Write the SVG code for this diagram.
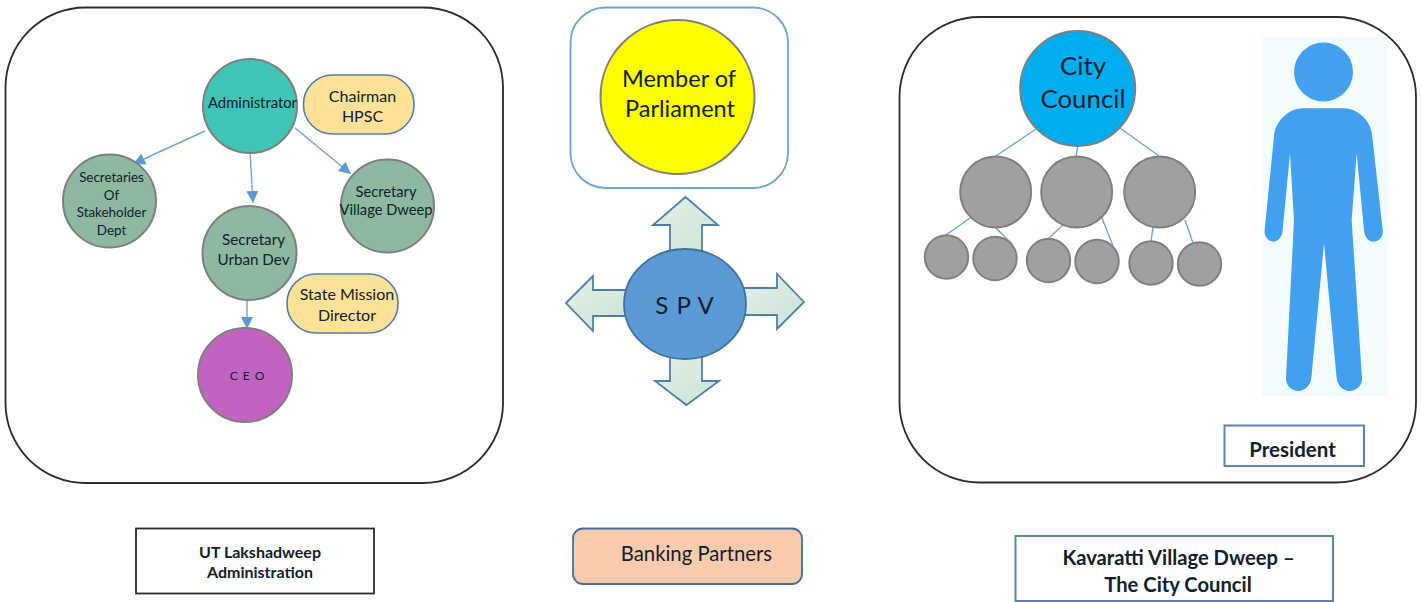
<svg xmlns="http://www.w3.org/2000/svg" width="1421" height="602" viewBox="0 0 1421 602">
<defs>
<style>
text{font-family:"Lato","Open Sans","Liberation Sans",sans-serif;fill:#10202c;text-anchor:middle}
.big{fill:none;stroke:#2b2b2b;stroke-width:1.8}
.c{stroke:#7f7f7f;stroke-width:2}
.green{fill:#8cb9a0}
.pill{fill:#ffe298;stroke:#4f7fa8;stroke-width:1.6}
.gray{fill:#a0a0a0;stroke:#7f7f7f;stroke-width:2}
.con{stroke:#6fa3d8;stroke-width:1.4;fill:none}
.arr{stroke:#4f81a8;stroke-width:1.8}
.lbl{fill:#fff;stroke:#5b85b0;stroke-width:2}
.b{font-weight:700}
</style>
<marker id="ah" markerUnits="userSpaceOnUse" markerWidth="14" markerHeight="12" refX="12" refY="6" orient="auto"><path d="M0 0L12 6L0 12Z" fill="#5b9bd5"/></marker>
<linearGradient id="ag" x1="0" y1="0" x2="1" y2="1"><stop offset="0" stop-color="#e6f0ea"/><stop offset="1" stop-color="#c9e3d6"/></linearGradient>
</defs>
<g id="panel-left"><rect class="big" x="5.500" y="7.500" width="497.500" height="475.500" rx="80"/></g>
<g id="panel-right"><rect class="big" x="899.500" y="17" width="516.500" height="465.500" rx="80"/></g>
<g id="connectors">
<line class="con" x1="205" y1="131" x2="133" y2="164" marker-end="url(#ah)"/>
<line class="con" x1="250" y1="152" x2="253" y2="203" marker-end="url(#ah)"/>
<line class="con" x1="295" y1="128" x2="351" y2="174" marker-end="url(#ah)"/>
<line class="con" x1="247" y1="299" x2="247" y2="329" marker-end="url(#ah)"/>
<line class="con" x1="1036" y1="129" x2="996" y2="156"/>
<line class="con" x1="1078" y1="145" x2="1076" y2="156"/>
<line class="con" x1="1120" y1="128" x2="1159" y2="156"/>
<line class="con" x1="970" y1="218" x2="946" y2="235"/>
<line class="con" x1="996" y1="228" x2="1012" y2="244"/>
<line class="con" x1="1063" y1="225" x2="1049" y2="238"/>
<line class="con" x1="1102" y1="218" x2="1113" y2="246"/>
<line class="con" x1="1153" y1="228" x2="1151" y2="241"/>
<line class="con" x1="1185" y1="220" x2="1193" y2="243"/>
</g>
<g id="administrator"><circle class="c" cx="250" cy="106" r="47" fill="#40c4b6"/><text x="252.500" y="108" font-size="14.800">Administrator</text></g>
<g id="chairman"><rect class="pill" x="303.500" y="75" width="110.500" height="59" rx="29"/><text x="362.500" y="102" font-size="16">Chairman</text><text x="362.500" y="122" font-size="16">HPSC</text></g>
<g id="secretaries"><circle class="c green" cx="109.500" cy="201" r="46.500"/><text font-size="13.400" x="111.500" y="182">Secretaries</text><text font-size="13.400" x="111.500" y="200">Of</text><text font-size="13.400" x="111.500" y="217">Stakeholder</text><text font-size="13.400" x="111.500" y="235">Dept</text></g>
<g id="sec-village"><circle class="c green" cx="387.500" cy="206" r="46.500"/><text font-size="14.700" x="386" y="197">Secretary</text><text font-size="14.700" x="386" y="215">Village Dweep</text></g>
<g id="sec-urban"><circle class="c green" cx="249.500" cy="253" r="47"/><text font-size="15.200" x="253.500" y="245">Secretary</text><text font-size="15.200" x="253.500" y="265">Urban Dev</text></g>
<g id="state-mission"><rect class="pill" x="287" y="274" width="111" height="59" rx="29"/><text font-size="16" x="347" y="300">State Mission</text><text font-size="16" x="347" y="321">Director</text></g>
<g id="ceo"><circle class="c" cx="245" cy="375" r="47" fill="#c263c2"/><text font-size="12" x="247.500" y="380" letter-spacing="1">C E O</text></g>
<g id="label-ut"><rect x="136" y="528.500" width="238" height="65" fill="#fff" stroke="#2b2b2b" stroke-width="1.800"/><text class="b" font-size="16" x="260" y="557.500">UT Lakshadweep</text><text class="b" font-size="16" x="260" y="577.500">Administration</text></g>
<g id="member"><rect x="570.500" y="7.500" width="217.500" height="180.500" rx="35" fill="#fff" stroke="#6fa3d8" stroke-width="1.800"/><circle class="c" cx="677.500" cy="97" r="77" fill="#ffff00"/><text font-size="23.500" x="679" y="87">Member of</text><text font-size="23.500" x="680" y="116.500">Parliament</text></g>
<g id="spv-arrows">
<path class="arr" fill="url(#ag)" d="M685.500 197L718 225H702V260H670V225H653Z"/>
<path class="arr" fill="url(#ag)" d="M686.500 405L719 381H702V350H670V381H655Z"/>
<path class="arr" fill="url(#ag)" d="M566 303L593 276V290H630V316H593V331Z"/>
<path class="arr" fill="url(#ag)" d="M804 302L777 274V288H740V315H777V329Z"/>
</g>
<g id="spv"><ellipse cx="685" cy="304" rx="61" ry="55" fill="#5b9ad5" stroke="#41719c" stroke-width="1.800"/><text font-size="24" x="685" y="314" letter-spacing="1">S P V</text></g>
<g id="banking"><rect x="573" y="528.500" width="229" height="55.500" rx="10" fill="#f8cbad" stroke="#41719c" stroke-width="1.800"/><text font-size="20.300" x="696.500" y="561">Banking Partners</text></g>
<g id="city-council"><circle class="c" cx="1077.700" cy="88.500" r="57.500" fill="#00aeef"/><text font-size="25.800" x="1083" y="75">City</text><text font-size="25.800" x="1083" y="108">Council</text></g>
<g id="c1"><circle class="gray" cx="995.700" cy="192" r="35.500"/></g>
<g id="c2"><circle class="gray" cx="1076.700" cy="192" r="35.500"/></g>
<g id="c3"><circle class="gray" cx="1159.700" cy="192" r="35.500"/></g>
<g id="s1"><circle class="gray" cx="946.500" cy="257" r="21.700"/></g>
<g id="s2"><circle class="gray" cx="995" cy="258.500" r="21.700"/></g>
<g id="s3"><circle class="gray" cx="1048.500" cy="260.500" r="21.700"/></g>
<g id="s4"><circle class="gray" cx="1097" cy="261.500" r="21.700"/></g>
<g id="s5"><circle class="gray" cx="1151" cy="263" r="21.700"/></g>
<g id="s6"><circle class="gray" cx="1199.500" cy="264" r="21.700"/></g>
<g id="person">
<rect x="1262" y="37" width="126" height="359" fill="#f2fbfe"/>
<circle cx="1323.500" cy="72" r="29.500" fill="#42a0f0"/>
<path transform="translate(1240 20) scale(.3333)" fill="#42a0f0" d="M190 265H310C360 265 395 310 397 350L428 630C432 650 415 665 400 665C385 665 373 650 372 630L350 400L335 600L366 1075C368 1095 350 1113 328 1113C308 1113 292 1095 290 1075L252 670L214 1075C212 1095 195 1113 175 1113C155 1113 136 1095 138 1075L162 600L150 400L128 630C127 650 115 665 100 665C85 665 72 650 74 630L102 350C104 310 140 265 190 265Z"/>
</g>
<g id="president"><rect class="lbl" x="1224.500" y="425.500" width="139.500" height="40.500"/><text class="b" font-size="20.500" x="1292.500" y="457">President</text></g>
<g id="label-city"><rect class="lbl" x="1015.500" y="536" width="317.500" height="65"/><text class="b" font-size="20.200" x="1178.500" y="565">Kavaratti Village Dweep –</text><text class="b" font-size="20.200" x="1178" y="592">The City Council</text></g>
</svg>
